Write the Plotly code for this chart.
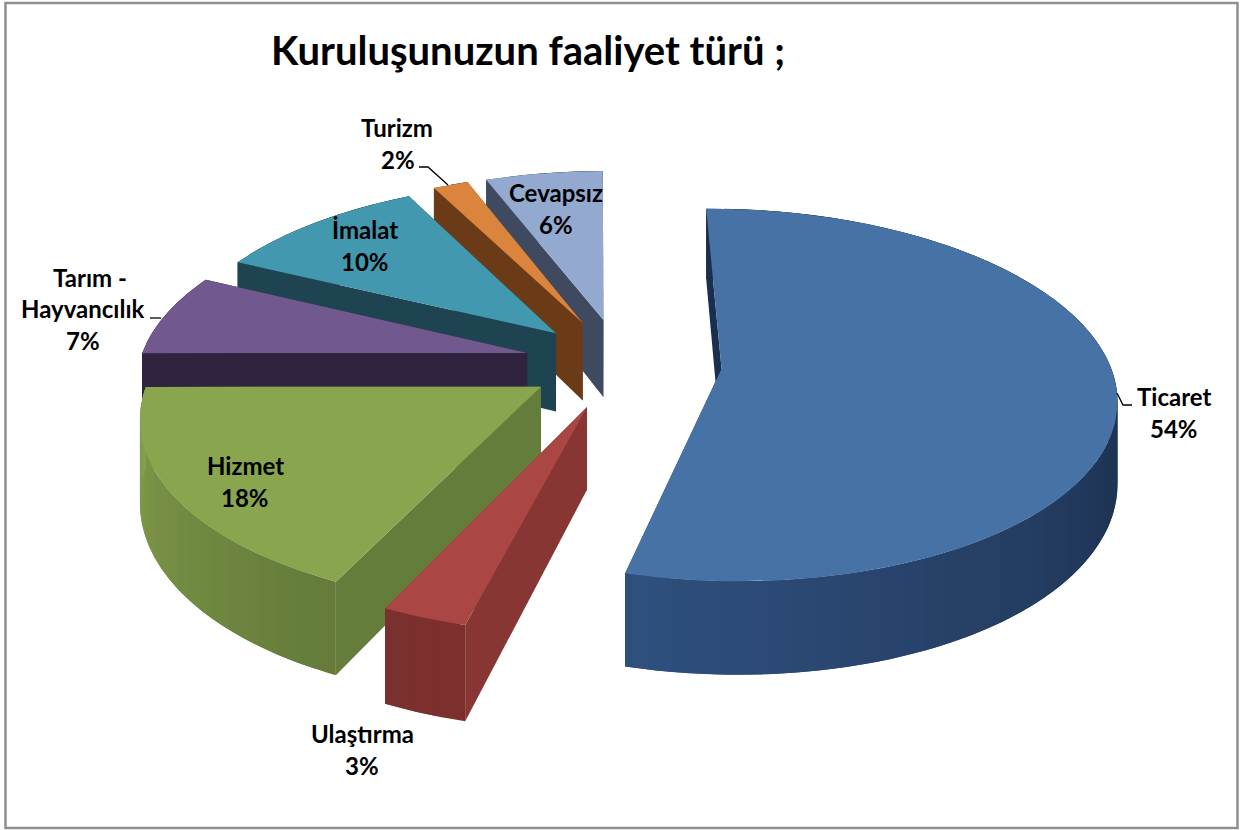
import math
import plotly.graph_objects as go

# ---- data (slice sizes; labels show them rounded) ----
categories = ["Ticaret", "Ulaştırma", "Hizmet", "Tarım - Hayvancılık", "İmalat", "Turizm", "Cevapsız"]
values = [54.2, 3.0, 18.0, 7.2, 10.3, 1.7, 5.7]
title_text = "Kuruluşunuzun faaliyet türü ;"

# ---- style ----
pulls = [0.26, 0.25, 0.24, 0.25, 0.24, 0.25, 0.25]
top_colors = ["#4672a6", "#aa4643", "#89a54e", "#71588f", "#4198af", "#db843d", "#93a9cf"]
edge_colors = ["#1a2f4d", "#873634", "#647d3a", "#2f2340", "#1d4450", "#6b3a17", "#3f4a60"]
arc_from = ["#1a2e4b", "#7c302e", "#647b3a", "#2f2340", "#1d4450", "#6b3a17", "#3f4a60"]
arc_to = ["#2f4f7d", "#7a302e", "#849f4c", "#2f2340", "#1d4450", "#6b3a17", "#3f4a60"]
draw_order = [6, 5, 4, 3, 2, 1, 0]
label_lines = [
    [("Ticaret", 1174, 396), ("54%", 1174, 428)],
    [("Ulaştırma", 362, 733), ("3%", 362, 765)],
    [("Hizmet", 245, 465), ("18%", 245, 497)],
    [("Tarım -", 90, 277), ("Hayvancılık", 83, 308), ("7%", 83, 340)],
    [("İmalat", 365, 229), ("10%", 365, 261)],
    [("Turizm", 397, 127), ("2%", 398, 159)],
    [("Cevapsız", 556, 192), ("6%", 556, 224)],
]
leaders = [
    ([1117, 1123, 1132], [393, 405, 405]),
    ([150, 161], [318, 318]),
    ([419, 428, 448], [167, 167, 185]),
]
CX, CY, RX, RY, PERSP, DEPTH, ROT = 621, 363, 388, 181, 0.14, 80, -0.5


def project(i, theta_deg, r=1.0, lower=False):
    """Perspective projection of a point of slice i, from its angle."""
    th = math.radians(theta_deg)
    m = math.radians(mids[i])
    xw = r * math.sin(th) + pulls[i] * math.sin(m)
    zw = r * math.cos(th) + pulls[i] * math.cos(m)
    w = 1 + PERSP * zw
    return (CX + RX * xw / w, CY - RY * zw / w + (DEPTH / w if lower else 0))


def mix(a, b, t):
    pa = [int(a[k:k + 2], 16) for k in (1, 3, 5)]
    pb = [int(b[k:k + 2], 16) for k in (1, 3, 5)]
    return "rgb(%d,%d,%d)" % tuple(round(p + (q - p) * t) for p, q in zip(pa, pb))


total = sum(values)
starts, ends, mids = [], [], []
acc = ROT
for v in values:
    starts.append(acc)
    acc += 360 * v / total
    ends.append(acc)
    mids.append((starts[-1] + ends[-1]) / 2)

fig = go.Figure()


def poly(points, color, name):
    xs, ys = zip(*points)
    fig.add_trace(go.Scatter(x=list(xs) + [xs[0]], y=list(ys) + [ys[0]], mode="lines", fill="toself",
                             fillcolor=color, line=dict(color=color, width=0),
                             hoverinfo="text", text=name, showlegend=False))


for i in draw_order:
    name = f"{categories[i]}: {round(values[i])}%"
    a, b = starts[i], ends[i]
    # hidden end wall
    poly([project(i, b, 0), project(i, b), project(i, b, lower=True), project(i, b, 0, lower=True)],
         edge_colors[i], name)
    # outer curved wall: overlapping shaded strips over its visible part
    vis = max(a, 90.0)
    n = max(2, int((b - a) / 3))
    for k in range(n):
        t0 = a + (b - a) * k / n
        t1 = a + (b - a) * min(n, k + 2) / n
        shade = max(0.0, min(1.0, (t0 + (b - a) / (2 * n) - vis) / (b - vis)))
        m = max(2, int((t1 - t0) / 1.0))
        span = [t0 + (t1 - t0) * j / m for j in range(m + 1)]
        poly([project(i, t) for t in span] + [project(i, t, lower=True) for t in reversed(span)],
             mix(arc_from[i], arc_to[i], shade), name)
    # visible start wall
    poly([project(i, a, 0), project(i, a), project(i, a, lower=True), project(i, a, 0, lower=True)],
         edge_colors[i], name)
    # top face
    m = max(2, int(b - a))
    arc = [project(i, a + (b - a) * k / m) for k in range(m + 1)]
    poly([project(i, a, 0)] + arc, top_colors[i], name)

for lx, ly in leaders:
    fig.add_trace(go.Scatter(x=lx, y=ly, mode="lines", line=dict(color="#000000", width=1.3),
                             hoverinfo="skip", showlegend=False))

annotations = [dict(x=tx, y=ty, xref="x", yref="y", text=t, showarrow=False,
                    font=dict(family="Lato", size=24, color="#000000", weight="bold"))
               for lines in label_lines for t, tx, ty in lines]
annotations.append(dict(x=528, y=50, xref="x", yref="y", text=title_text, showarrow=False,
                        font=dict(family="Lato", size=40, color="#000000", weight="bold")))

fig.update_layout(
    width=1240, height=830, autosize=False,
    margin=dict(l=0, r=0, t=0, b=0),
    paper_bgcolor="#ffffff", plot_bgcolor="#ffffff",
    xaxis=dict(range=[0, 1240], visible=False, fixedrange=True),
    yaxis=dict(range=[830, 0], visible=False, fixedrange=True),
    annotations=annotations,
    shapes=[dict(type="rect", xref="x", yref="y", x0=5.5, y0=3, x1=1237.5, y1=828,
                 line=dict(color="#8f8f8f", width=2.5), layer="below")],
)
fig.write_html("out.html", config={"displayModeBar": False},
               post_script="document.body.style.margin='0';document.body.style.overflow='hidden';")
